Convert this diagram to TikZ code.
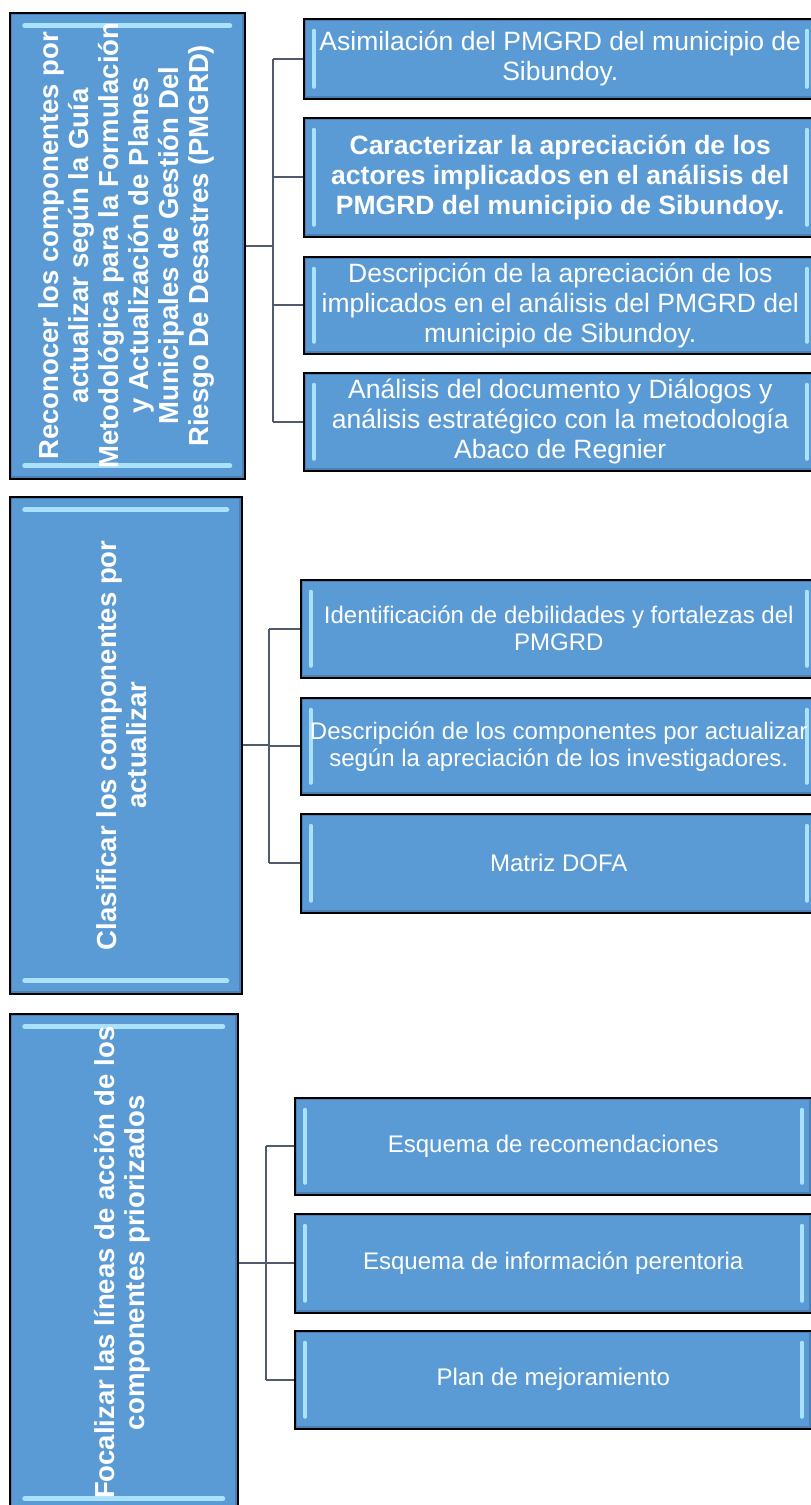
\documentclass[tikz,border=0pt]{standalone}
\usepackage{fontspec}
\setmainfont{Liberation Sans}
\usepackage{graphicx}
\definecolor{boxblue}{RGB}{91,155,213}
\definecolor{boxglow}{RGB}{170,226,252}
\definecolor{boxrim}{RGB}{76,128,180}
\definecolor{linkgray}{RGB}{80,92,108}
\tikzset{
    headbox/.style={draw=black, line width=1.5pt, fill=boxblue, text=white, inner sep=0pt, anchor=north west,
        font=\fontsize{27.5}{30}\selectfont\bfseries,
        path picture={
            \draw[boxrim, line width=5pt] (path picture bounding box.south west) rectangle (path picture bounding box.north east);
            \draw[boxglow, line width=5pt, line cap=round] ([xshift=15pt,yshift=-13pt]path picture bounding box.north west) -- ([xshift=-15pt,yshift=-13pt]path picture bounding box.north east);
            \draw[boxglow, line width=5pt, line cap=round] ([xshift=15pt,yshift=13pt]path picture bounding box.south west) -- ([xshift=-15pt,yshift=13pt]path picture bounding box.south east);
        }},
    itembox/.style={draw=black, line width=1.5pt, fill=boxblue, text=white, inner sep=0pt, anchor=north west, align=center,
        path picture={
            \draw[boxrim, line width=5pt] (path picture bounding box.south west) rectangle (path picture bounding box.north east);
            \draw[boxglow, line width=4pt, line cap=round] ([xshift=10pt,yshift=-12pt]path picture bounding box.north west) -- ([xshift=10pt,yshift=12pt]path picture bounding box.south west);
            \draw[boxglow, line width=4pt, line cap=round] ([xshift=-10pt,yshift=-12pt]path picture bounding box.north east) -- ([xshift=-10pt,yshift=12pt]path picture bounding box.south east);
        }},
    bigtext/.style={font=\fontsize{26.5}{30}\selectfont},
    boldtext/.style={font=\fontsize{26.5}{30}\selectfont\bfseries},
    smalltext/.style={font=\fontsize{24}{27}\selectfont},
    link/.style={draw=linkgray, line width=2.2pt}
}
\begin{document}
\begin{tikzpicture}[x=1pt, y=-1pt]
        \clip (0,0) rectangle (811,1505);
        \fill[white] (0,0) rectangle (811,1505);

        \node[headbox, minimum width=235pt, minimum height=466pt] (head1) at (9,12) {\rotatebox{90}{\begin{tabular}{@{}c@{}}Reconocer los componentes por\\actualizar según la Guía\\Metodológica para la Formulación\\y Actualización de Planes\\Municipales de Gestión Del\\Riesgo De Desastres (PMGRD)\end{tabular}}};
        \node[itembox, bigtext, minimum width=513pt, minimum height=80pt] (item11) at (303,18) {Asimilación del PMGRD del municipio de\\Sibundoy.};
        \node[itembox, boldtext, minimum width=513pt, minimum height=119pt] (item12) at (303,117) {Caracterizar la apreciación de los\\actores implicados en el análisis del\\PMGRD del municipio de Sibundoy.};
        \node[itembox, bigtext, minimum width=513pt, minimum height=97pt] (item13) at (303,256) {Descripción de la apreciación de los\\implicados en el análisis del PMGRD del\\municipio de Sibundoy.};
        \node[itembox, bigtext, minimum width=513pt, minimum height=98pt] (item14) at (303,372) {Análisis del documento y Diálogos y\\análisis estratégico con la metodología\\Abaco de Regnier};
        \coordinate (trunk1) at (273,0);
        \draw[link] (head1.east) -- (head1.east -| trunk1);
        \draw[link] (item11.west -| trunk1) -- (item14.west -| trunk1);
        \draw[link] (item11.west) -- (item11.west -| trunk1);
        \draw[link] (item12.west) -- (item12.west -| trunk1);
        \draw[link] (item13.west) -- (item13.west -| trunk1);
        \draw[link] (item14.west) -- (item14.west -| trunk1);

        \node[headbox, minimum width=232pt, minimum height=497pt] (head2) at (9,496) {\rotatebox{90}{\begin{tabular}{@{}c@{}}Clasificar los componentes por\\actualizar\end{tabular}}};
        \node[itembox, smalltext, minimum width=516pt, minimum height=98pt] (item21) at (300,579) {Identificación de debilidades y fortalezas del\\PMGRD};
        \node[itembox, smalltext, minimum width=516pt, minimum height=97pt] (item22) at (300,697) {Descripción de los componentes por actualizar\\según la apreciación de los investigadores.};
        \node[itembox, smalltext, minimum width=516pt, minimum height=99pt] (item23) at (300,813) {Matriz DOFA};
        \coordinate (trunk2) at (269,0);
        \draw[link] (head2.east) -- (head2.east -| trunk2);
        \draw[link] (item21.west -| trunk2) -- (item23.west -| trunk2);
        \draw[link] (item21.west) -- (item21.west -| trunk2);
        \draw[link] (item22.west) -- (item22.west -| trunk2);
        \draw[link] (item23.west) -- (item23.west -| trunk2);

        \node[headbox, minimum width=228pt, minimum height=498pt] (head3) at (9,1013) {\rotatebox{90}{\begin{tabular}{@{}c@{}}Focalizar las líneas de acción de los\\componentes priorizados\end{tabular}}};
        \node[itembox, smalltext, minimum width=517pt, minimum height=97pt] (item31) at (294,1097) {Esquema de recomendaciones};
        \node[itembox, smalltext, minimum width=517pt, minimum height=99pt] (item32) at (294,1213) {Esquema de información perentoria};
        \node[itembox, smalltext, minimum width=517pt, minimum height=98pt] (item33) at (294,1330) {Plan de mejoramiento};
        \coordinate (trunk3) at (266,0);
        \draw[link] (head3.east) -- (head3.east -| trunk3);
        \draw[link] (item31.west -| trunk3) -- (item33.west -| trunk3);
        \draw[link] (item31.west) -- (item31.west -| trunk3);
        \draw[link] (item32.west) -- (item32.west -| trunk3);
        \draw[link] (item33.west) -- (item33.west -| trunk3);
    \end{tikzpicture}
\end{document}
